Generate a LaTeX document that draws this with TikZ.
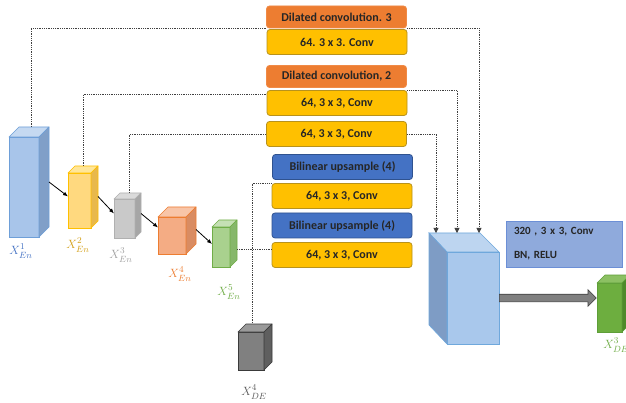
\documentclass[tikz,border=0pt]{standalone}
\usepackage{amsmath,amssymb}
\usepackage{fontspec}
\newfontfamily\boxfont{Carlito}
\usepackage{tikz}
\usetikzlibrary{arrows.meta,calc,shapes.arrows}

% box colours
\definecolor{dilfill}{HTML}{ED7D31}
\definecolor{dilline}{HTML}{F08A46}
\definecolor{convfill}{HTML}{FFC000}
\definecolor{convline}{HTML}{B8921C}
\definecolor{upfill}{HTML}{4472C4}
\definecolor{upline}{HTML}{2F528F}
\definecolor{conffill}{HTML}{8FAADC}
\definecolor{confline}{HTML}{6C8FD6}
\definecolor{arrowgray}{HTML}{808080}
% cube colours
\definecolor{en1front}{HTML}{A8C5EA}\definecolor{en1side}{HTML}{809FC8}
\definecolor{en1top}{HTML}{C5D9F1}\definecolor{en1line}{HTML}{6E9FD8}
\definecolor{en2front}{HTML}{FFD97F}\definecolor{en2side}{HTML}{E8B84C}
\definecolor{en2top}{HTML}{FFE699}\definecolor{en2line}{HTML}{FFC000}
\definecolor{en3front}{HTML}{C9C9C9}\definecolor{en3side}{HTML}{A6A6A6}
\definecolor{en3top}{HTML}{DADADA}\definecolor{en3line}{HTML}{B0B0B0}
\definecolor{en4front}{HTML}{F4AC84}\definecolor{en4side}{HTML}{D98C62}
\definecolor{en4top}{HTML}{F8C5A8}\definecolor{en4line}{HTML}{ED7D31}
\definecolor{en5front}{HTML}{A9D18E}\definecolor{en5side}{HTML}{86B76A}
\definecolor{en5top}{HTML}{C5E0B4}\definecolor{en5line}{HTML}{70AD47}
\definecolor{de4front}{HTML}{808080}\definecolor{de4side}{HTML}{5F5F5F}
\definecolor{de4top}{HTML}{9A9A9A}\definecolor{de4line}{HTML}{3A3A3A}
\definecolor{de3front}{HTML}{6DAE3F}\definecolor{de3side}{HTML}{4E8A2A}
\definecolor{de3top}{HTML}{8CC063}\definecolor{de3line}{HTML}{5E9E38}
\definecolor{fusefront}{HTML}{A9C8EC}\definecolor{fuseside}{HTML}{7E9CC5}
\definecolor{fusetop}{HTML}{BDD5F0}\definecolor{fuseline}{HTML}{6FA8DC}
\definecolor{lbblue}{HTML}{4472C4}
\definecolor{lbgold}{HTML}{D4A017}
\definecolor{lbgray}{HTML}{A0A0A0}
\definecolor{lborange}{HTML}{ED7D31}
\definecolor{lbgreen}{HTML}{70AD47}
\definecolor{lbdark}{HTML}{595959}

% name, centre of front face, width, height, depth
\newcommand{\blockcube}[5]{%
  \node[draw=#1line, fill=#1front, line width=0.6pt, minimum width=#3, minimum height=#4, inner sep=0pt, outer sep=0pt] (#1) at #2 {};
  \draw[#1line, fill=#1top, line width=0.6pt, line join=round] (#1.north west) -- ++(#5,-#5) -- ++(#3,0) -- (#1.north east) -- cycle;
  \draw[#1line, fill=#1side, line width=0.6pt, line join=round] (#1.north east) -- ++(#5,-#5) -- ++(0,#4) -- (#1.south east) -- cycle;
}

\tikzset{
  lblbox/.style={rectangle, rounded corners=3pt, minimum width=140, minimum height=25, inner sep=0pt, line width=0.8pt, font=\boxfont\bfseries\fontsize{12}{14}\selectfont, text=black!85},
  dil/.style={lblbox, fill=dilfill, draw=dilline, minimum height=22},
  conv/.style={lblbox, fill=convfill, draw=convline},
  upsm/.style={lblbox, fill=upfill, draw=upline},
  skipline/.style={densely dotted, line width=0.8pt, black!75},
  into/.style={skipline, -{Triangle[length=5pt,width=5pt]}},
  enc/.style={-{Latex[length=5pt,width=4pt]}, line width=0.8pt},
  lbl/.style={font=\fontsize{13}{15}\selectfont}
}

\begin{document}
\begin{tikzpicture}[x=1pt,y=-1pt]
  \fill[white] (0,0) rectangle (626,403);
  \useasboundingbox (0,0) rectangle (626,403);

  % right hand blocks
  \node[dil]  (dil3) at (336.5,17)  {Dilated convolution. 3};
  \node[conv] (dcv3) at (337,42)    {64. 3 x 3. Conv};
  \node[dil]  (dil2) at (336.5,76.5){Dilated convolution, 2};
  \node[conv] (dcv2) at (337,103)   {64, 3 x 3, Conv};
  \node[conv] (scv1) at (336.5,134) {64, 3 x 3, Conv};
  \node[upsm] (ups1) at (342.5,167) {Bilinear upsample (4)};
  \node[conv] (ucv1) at (342,196)   {64, 3 x 3, Conv};
  \node[upsm] (ups2) at (342,225.5) {Bilinear upsample (4)};
  \node[conv] (ucv2) at (342,255)   {64, 3 x 3, Conv};

  % encoder and decoder cubes
  \blockcube{en1}{(24,187)}{30}{100}{10}
  \blockcube{en2}{(79.5,200.5)}{23}{55}{7}
  \blockcube{en3}{(124.5,218.5)}{21}{39}{6}
  \blockcube{en4}{(172,235.5)}{28}{37}{10}
  \blockcube{en5}{(221,247)}{18}{40}{7}
  \blockcube{de4}{(251,351)}{26}{38}{8}
  \blockcube{de3}{(609.5,307.5)}{25}{49}{8}

  \node[lbl, text=lbblue]   (l1) at (21,251)  {$X^{1}_{En}$};
  \node[lbl, text=lbgold]   (l2) at (78,245)  {$X^{2}_{En}$};
  \node[lbl, text=lbgray]   (l3) at (121,255) {$X^{3}_{En}$};
  \node[lbl, text=lborange] (l4) at (180,274) {$X^{4}_{En}$};
  \node[lbl, text=lbgreen]  (l5) at (229,292) {$X^{5}_{En}$};
  \node[lbl, text=lbdark]   (l6) at (254,392) {$X^{4}_{DE}$};
  \node[lbl, text=lbgreen]  (l7) at (616,345) {$X^{3}_{DE}$};

  % fusion block (depth to the left)
  \node[draw=fuseline, fill=fusefront, line width=0.6pt, minimum width=52, minimum height=92, inner sep=0pt, outer sep=0pt] (fuse) at (473,298) {};
  \draw[fuseline, fill=fusetop, line width=0.6pt] (fuse.north west) -- ++(-18,-19) -- ++(51,0) -- (fuse.north east) -- cycle;
  \draw[fuseline, fill=fuseside, line width=0.6pt] (fuse.north west) -- ++(-18,-19) -- ++(0,92) -- (fuse.south west) -- cycle;
  \coordinate (in1) at ($(fuse.north west)+(-11,-19)$);
  \coordinate (in2) at ($(fuse.north west)+(10,-19)$);
  \coordinate (in3) at ($(fuse.north east)+(-20,-19)$);

  \node[draw=confline, fill=conffill, line width=0.6pt, minimum width=116, minimum height=46, inner sep=0pt, text width=100, align=left, font=\boxfont\bfseries\fontsize{11}{13}\selectfont, text=black!85] (conf) at (564,244) {320 , 3 x 3, Conv\\[11pt]BN, RELU};

  \node[single arrow, draw=black!75, fill=arrowgray, line width=0.6pt, minimum height=97, minimum width=16, single arrow head extend=4.5pt, inner xsep=0pt, inner ysep=3.5pt, anchor=tail] (pass) at (fuse.east) {};

  % encoder arrows
  \draw[enc] ($(en1.east)+(10,-5)$) -- ([yshift=4pt]en2.west);
  \draw[enc] ($(en2.east)+(7,-4)$) -- ([yshift=5pt]en3.west);
  \draw[enc] ($(en3.east)+(6,-5)$) -- ([yshift=8pt]en4.west);
  \draw[enc] ($(en4.east)+(10,-6)$) -- ([yshift=3pt]en5.west);

  % skip connections
  \draw[skipline] ($(en1.north)+(7,-10)$) |- (dil3.south west);
  \draw[skipline] ($(en2.north)+(4,-7)$) |- ([yshift=-4pt]dcv2.north west);
  \draw[skipline] ($(en3.north)+(5,-6)$) |- (scv1.west);
  \coordinate (s5) at ($(en5.east)+(7,2)$);
  \draw[skipline] (s5) -- (s5 -| ucv2.west);
  \draw[skipline] ($(de4.north)+(1,-9)$) |- (ucv1.north west);

  \draw[into] (dil3.south east) -| (in3);
  \draw[into] (dcv2.north east) -| (in2);
  \draw[into] (scv1.east) -| (in1);
\end{tikzpicture}
\end{document}
